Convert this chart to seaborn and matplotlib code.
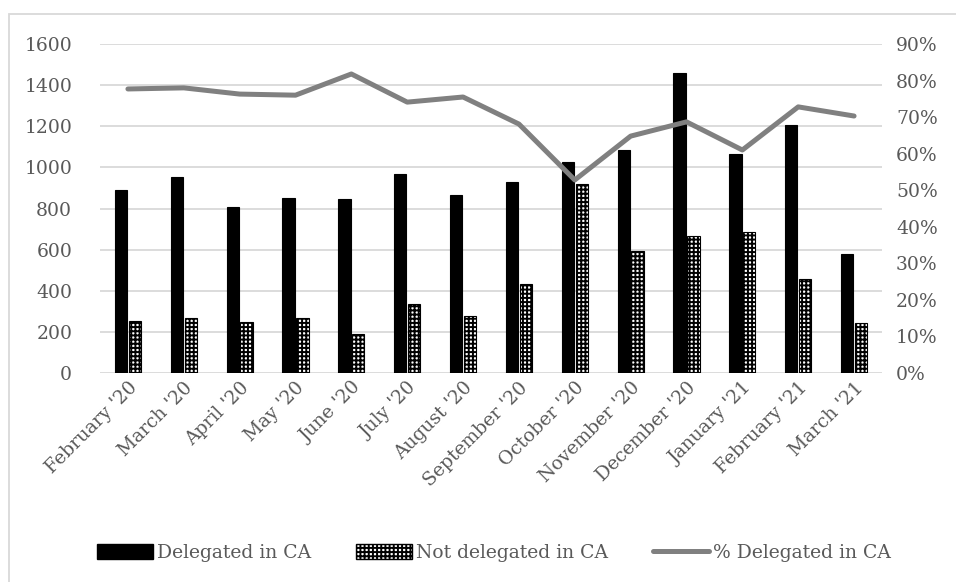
import numpy as np
import pandas as pd
import matplotlib
matplotlib.use("Agg")
import matplotlib.pyplot as plt
import seaborn as sns
from matplotlib.patches import Patch, Rectangle
from matplotlib.lines import Line2D
from matplotlib.ticker import PercentFormatter

months = ["February '20", "March '20", "April '20", "May '20", "June '20", "July '20",
          "August '20", "September '20", "October '20", "November '20", "December '20",
          "January '21", "February '21", "March '21"]
delegated = [890, 953, 807, 851, 846, 968, 866, 929, 1026, 1085, 1459, 1065, 1206, 579]
not_delegated = [253, 267, 248, 267, 190, 336, 277, 433, 919, 593, 666, 686, 457, 243]
pct_delegated = [0.777, 0.780, 0.763, 0.760, 0.818, 0.741, 0.755, 0.681, 0.528, 0.648,
                 0.687, 0.610, 0.728, 0.703]

TXT = "#595959"
GRID = "#d9d9d9"
LINE = "#808080"
FS = 13.5

sns.set_theme(style="white")
plt.rcParams["font.family"] = ["DejaVu Serif"]
plt.rcParams["hatch.linewidth"] = 1.4

df = pd.DataFrame({"month": months * 2,
                   "value": delegated + not_delegated,
                   "series": ["Delegated in CA"] * len(months) + ["Not delegated in CA"] * len(months)})

fig = plt.figure(figsize=(9.56, 5.82), dpi=100)
ax = fig.add_axes([100 / 956, 1 - 373 / 582, 782 / 956, 329 / 582])

sns.barplot(data=df, x="month", y="value", hue="series", order=months,
            palette={"Delegated in CA": "black", "Not delegated in CA": "white"},
            width=0.5, gap=0.12, ax=ax, legend=False, edgecolor="black", linewidth=0.8)

# second series gets a checker-like hatch
n = len(months)
for i, bar in enumerate(ax.patches[:2 * n]):
    if i >= n:
        bar.set_hatch("++++")
        bar.set_edgecolor("black")

ax.set_ylim(0, 1600)
ax.set_yticks(range(0, 1601, 200))
ax.set_xlim(-0.5, n - 0.5)
ax.grid(axis="y", color=GRID, linewidth=1.3)
ax.set_axisbelow(True)
ax.set_xlabel("")
ax.set_ylabel("")
for s in ax.spines.values():
    s.set_visible(False)
ax.tick_params(axis="y", colors=TXT, labelsize=FS, length=0, pad=20)
ax.tick_params(axis="x", colors=TXT, labelsize=FS, length=0, pad=4)
for lab in ax.get_xticklabels():
    lab.set_rotation(45)
    lab.set_ha("right")
    lab.set_rotation_mode("anchor")

ax2 = ax.twinx()
sns.lineplot(x=np.arange(n), y=pct_delegated, ax=ax2, color=LINE, linewidth=3.6,
             solid_capstyle="round")
ax2.set_ylim(0, 0.9)
ax2.set_yticks(np.arange(0, 0.91, 0.1))
ax2.yaxis.set_major_formatter(PercentFormatter(1.0, decimals=0))
ax2.tick_params(axis="y", colors=TXT, labelsize=FS, length=0, pad=10)
for s in ax2.spines.values():
    s.set_visible(False)
ax2.set_xlim(-0.5, n - 0.5)

# outer chart border
fig.patches.append(Rectangle((9 / 956, -0.1), 1.2, (582 - 14) / 582 + 0.1,
                             transform=fig.transFigure, fill=False,
                             edgecolor=GRID, linewidth=1.3))

handles = [Patch(facecolor="black", edgecolor="black"),
           Patch(facecolor="white", edgecolor="black", hatch="++++"),
           Line2D([0], [0], color=LINE, linewidth=3.6, solid_capstyle="round")]
labels = ["Delegated in CA", "Not delegated in CA", "% Delegated in CA"]
leg = fig.legend(handles, labels, loc="center", bbox_to_anchor=(494 / 956, 1 - 553 / 582),
                 ncol=3, frameon=False, fontsize=FS, handlelength=3.0, handleheight=0.8,
                 handletextpad=0.2, columnspacing=2.4)
for t in leg.get_texts():
    t.set_color(TXT)

fig.savefig("out.png", dpi=100)
